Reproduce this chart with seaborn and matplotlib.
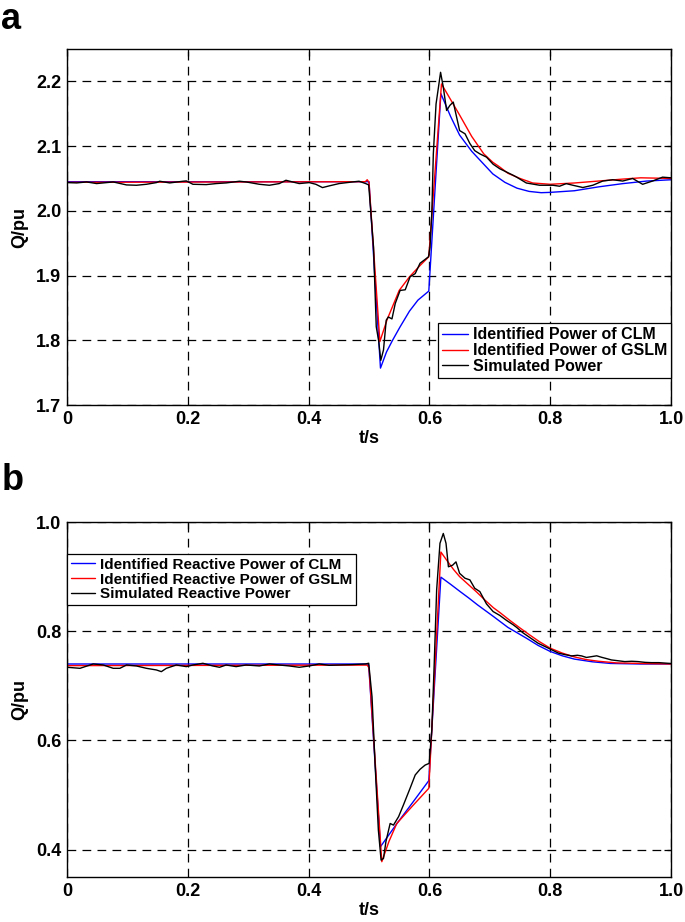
import numpy as np
import pandas as pd
import seaborn as sns
import matplotlib
matplotlib.use("Agg")
import matplotlib.pyplot as plt

# ---- panel a: Q/pu ----
t_a_clm = [0, 0.5, 0.519, 0.529, 0.539, 0.551, 0.567, 0.581, 0.599, 0.619, 0.635, 0.650,
           0.670, 0.690, 0.705, 0.725, 0.745, 0.765, 0.785, 0.80, 0.84, 0.88, 0.92, 0.96, 1.0]
q_a_clm = [2.045, 2.045, 1.757, 1.782, 1.800, 1.820, 1.845, 1.862, 1.876, 2.181, 2.146, 2.117,
           2.092, 2.072, 2.057, 2.044, 2.035, 2.030, 2.028, 2.0285, 2.031, 2.037, 2.042, 2.046, 2.048]

t_a_gslm = [0, 0.494, 0.497, 0.500, 0.518, 0.530, 0.550, 0.567, 0.585, 0.599, 0.620, 0.635,
            0.650, 0.670, 0.690, 0.705, 0.716, 0.730, 0.750, 0.771, 0.80, 0.84, 0.88, 0.92, 0.95, 1.0]
q_a_gslm = [2.044, 2.045, 2.048, 2.044, 1.798, 1.832, 1.877, 1.898, 1.916, 1.929, 2.196, 2.172,
            2.148, 2.115, 2.088, 2.075, 2.068, 2.058, 2.050, 2.043, 2.041, 2.043, 2.046, 2.049, 2.051, 2.050]

t_a_sim = [0, 0.016, 0.0325, 0.049, 0.0655, 0.0765, 0.0985, 0.115, 0.1315, 0.148, 0.1535, 0.170,
           0.192, 0.1975, 0.2085, 0.2305, 0.247, 0.2635, 0.2855, 0.2965, 0.3185, 0.335, 0.3515,
           0.3625, 0.3735, 0.3845, 0.401, 0.412, 0.423, 0.434, 0.4505, 0.4725, 0.4835, 0.4945,
           0.4995, 0.5075, 0.512, 0.516, 0.5195, 0.524, 0.5285, 0.532, 0.538, 0.5435, 0.5515, 0.560,
           0.568, 0.5765, 0.5845, 0.593, 0.5985, 0.601, 0.604, 0.6065, 0.611, 0.615, 0.6185, 0.623,
           0.6285, 0.634, 0.6395, 0.645, 0.650, 0.659, 0.667, 0.675, 0.6835, 0.6945, 0.7055, 0.7165,
           0.7275, 0.7385, 0.7445, 0.7605, 0.7825, 0.8045, 0.8155, 0.8265, 0.8375, 0.854, 0.8705,
           0.887, 0.9035, 0.92, 0.9365, 0.953, 0.9695, 0.986, 1.0]
q_a_sim = [2.0436, 2.0431, 2.0446, 2.0421, 2.0436, 2.0446, 2.0400, 2.0395, 2.0410, 2.0436, 2.0457, 2.0431,
           2.0457, 2.0462, 2.0410, 2.0405, 2.0421, 2.0431, 2.0457, 2.0446, 2.0410, 2.0395, 2.0421,
           2.0472, 2.0446, 2.0421, 2.0436, 2.0410, 2.0359, 2.0385, 2.0421, 2.0446, 2.0457, 2.0421,
           2.040, 1.944, 1.821, 1.799, 1.769, 1.785, 1.831, 1.836, 1.833, 1.857, 1.877, 1.878,
           1.898, 1.903, 1.919, 1.925, 1.929, 1.944, 1.996, 2.088, 2.165, 2.191, 2.214, 2.191,
           2.155, 2.163, 2.168, 2.145, 2.124, 2.119, 2.104, 2.093, 2.088, 2.083, 2.072, 2.065,
           2.060, 2.055, 2.052, 2.043, 2.0395, 2.0395, 2.038, 2.042, 2.0395, 2.036, 2.0395,
           2.046, 2.048, 2.046, 2.050, 2.041, 2.046, 2.052, 2.051]

# ---- panel b: Q/pu ----
t_b_clm = [0, 0.4975, 0.4995, 0.519, 0.545, 0.572, 0.599, 0.619, 0.635, 0.651, 0.665, 0.680,
           0.706, 0.730, 0.761, 0.780, 0.800, 0.820, 0.840, 0.870, 0.900, 0.950, 1.0]
q_b_clm = [0.740, 0.740, 0.738, 0.4055, 0.446, 0.486, 0.5264, 0.899, 0.886, 0.8725, 0.861, 0.848,
           0.827, 0.807, 0.787, 0.774, 0.763, 0.755, 0.749, 0.744, 0.741, 0.740, 0.740]

t_b_gslm = [0, 0.497, 0.500, 0.5212, 0.533, 0.546, 0.572, 0.599, 0.619, 0.630, 0.640, 0.650,
            0.665, 0.678, 0.692, 0.706, 0.717, 0.733, 0.750, 0.765, 0.782, 0.800, 0.820, 0.840,
            0.860, 0.880, 0.910, 0.950, 1.0]
q_b_gslm = [0.737, 0.738, 0.733, 0.378, 0.415, 0.448, 0.480, 0.5124, 0.945, 0.928, 0.913, 0.900,
            0.885, 0.872, 0.857, 0.843, 0.834, 0.820, 0.806, 0.794, 0.781, 0.769, 0.760, 0.753,
            0.748, 0.745, 0.742, 0.741, 0.740]

t_b_sim = [0, 0.0215, 0.0435, 0.060, 0.0765, 0.0875, 0.0985, 0.115, 0.1315, 0.148, 0.1562, 0.1645,
           0.181, 0.1975, 0.2085, 0.225, 0.2415, 0.2525, 0.2635, 0.28, 0.2965, 0.3185, 0.335, 0.3515,
           0.368, 0.3845, 0.401, 0.4175, 0.434, 0.4505, 0.4725, 0.4945,
           0.4995, 0.505, 0.510, 0.5155, 0.520, 0.524, 0.528, 0.535, 0.5405, 0.549, 0.557, 0.568,
           0.5765, 0.5845, 0.593, 0.5995, 0.604, 0.608, 0.612, 0.6175, 0.623, 0.6275, 0.6315, 0.6385,
           0.644, 0.650, 0.659, 0.667, 0.675, 0.6835, 0.6945, 0.7055, 0.7165, 0.7275, 0.7385, 0.7445,
           0.755, 0.7695, 0.780, 0.797, 0.8135, 0.825, 0.8355, 0.845, 0.852, 0.860, 0.8685, 0.877,
           0.885, 0.893, 0.9015, 0.912, 0.9235, 0.935, 0.9455, 0.957, 0.9675, 0.980, 0.995, 1.0]
q_b_sim = [0.734, 0.7321, 0.7401, 0.7382, 0.7321, 0.7321, 0.7382, 0.7364, 0.7321, 0.7291, 0.7260, 0.7321,
           0.7382, 0.7352, 0.7382, 0.7413, 0.7364, 0.7340, 0.7382, 0.7352, 0.7382, 0.7364, 0.7401, 0.7382,
           0.7364, 0.7340, 0.7364, 0.7401, 0.7376, 0.7382, 0.7389, 0.7401,
           0.7414, 0.680, 0.558, 0.436, 0.381, 0.384, 0.4147, 0.448, 0.445, 0.4605, 0.4819, 0.5124,
           0.5368, 0.5472, 0.555, 0.558, 0.619, 0.7414, 0.8756, 0.961, 0.979, 0.961, 0.918, 0.921,
           0.927, 0.906, 0.897, 0.894, 0.8787, 0.8726, 0.850, 0.836, 0.829, 0.820, 0.812, 0.807,
           0.797, 0.786, 0.778, 0.769, 0.760, 0.757, 0.7548, 0.756, 0.7548, 0.752, 0.7535, 0.755,
           0.7523, 0.750, 0.7474, 0.746, 0.7444, 0.745, 0.7444, 0.743, 0.7425, 0.7425, 0.7413, 0.741]

x_ticks = [0, 0.2, 0.4, 0.6, 0.8, 1.0]
x_labels = ["0", "0.2", "0.4", "0.6", "0.8", "1.0"]
ya_ticks = [1.7, 1.8, 1.9, 2.0, 2.1, 2.2]
ya_labels = ["1.7", "1.8", "1.9", "2.0", "2.1", "2.2"]
yb_ticks = [0.4, 0.6, 0.8, 1.0]
yb_labels = ["0.4", "0.6", "0.8", "1.0"]

labels_a = ["Identified Power of CLM", "Identified Power of GSLM", "Simulated Power"]
labels_b = ["Identified Reactive Power of CLM", "Identified Reactive Power of GSLM",
            "Simulated Reactive Power"]
colors = ["#0000ff", "#ff0000", "#000000"]

sns.set_style("white")
plt.rcParams["font.family"] = ["Liberation Sans", "DejaVu Sans"]
plt.rcParams["font.weight"] = "bold"
plt.rcParams["text.color"] = "k"
plt.rcParams["axes.labelcolor"] = "k"
plt.rcParams["xtick.color"] = "k"
plt.rcParams["ytick.color"] = "k"

fig = plt.figure(figsize=(6.85, 9.22), dpi=100)
ax_a = fig.add_axes([67 / 685, 1 - 405 / 922, 604 / 685, 356 / 922])
ax_b = fig.add_axes([67 / 685, 1 - 877 / 922, 604 / 685, 355 / 922])


def draw(ax, series, labels):
    for (t, q), lab, c in zip(series, labels, colors):
        df = pd.DataFrame({"t": t, "q": q})
        sns.lineplot(data=df, x="t", y="q", color=c, linewidth=1.0, label=lab,
                     estimator=None, sort=False, ax=ax)


draw(ax_a, [(t_a_clm, q_a_clm), (t_a_gslm, q_a_gslm), (t_a_sim, q_a_sim)], labels_a)
draw(ax_b, [(t_b_clm, q_b_clm), (t_b_gslm, q_b_gslm), (t_b_sim, q_b_sim)], labels_b)

for ax, yt, yl, ylim in [(ax_a, ya_ticks, ya_labels, (1.7, 2.25)),
                         (ax_b, yb_ticks, yb_labels, (0.35, 1.0))]:
    ax.set_xlim(0, 1.0)
    ax.set_ylim(*ylim)
    ax.set_xticks(x_ticks)
    ax.set_xticklabels(x_labels)
    ax.set_yticks(yt)
    ax.set_yticklabels(yl)
    ax.grid(True, color="k", linewidth=0.9, linestyle=(0, (7, 5)))
    ax.tick_params(direction="in", length=5, width=0.9, top=True, right=True,
                   labelsize=13, pad=4, colors="k")
    for sp in ax.spines.values():
        sp.set_color("k")
        sp.set_linewidth(1.0)
    ax.set_xlabel("t/s", fontsize=13, fontweight="bold", labelpad=2)
    ax.set_ylabel("Q/pu", fontsize=13, fontweight="bold", labelpad=6)

leg_kw = dict(frameon=True, fancybox=False, framealpha=1, edgecolor="k",
              borderpad=0.25, labelspacing=0.05, handlelength=1.6, handletextpad=0.3,
              borderaxespad=0)
leg_a = ax_a.legend(loc="lower right", bbox_to_anchor=(1.0, 27 / 356), fontsize=11.5, **leg_kw)
leg_b = ax_b.legend(loc="upper left", bbox_to_anchor=(0.0, 1 - 32 / 355), fontsize=11, **leg_kw)
for leg in (leg_a, leg_b):
    leg.get_frame().set_linewidth(0.9)
    for txt in leg.get_texts():
        txt.set_fontweight("bold")
        txt.set_color("k")

fig.text(0.002, 0.998, "a", fontsize=26, fontweight="bold", va="top", ha="left", color="k")
fig.text(0.002, 0.498, "b", fontsize=26, fontweight="bold", va="top", ha="left", color="k")

fig.savefig("out.png", dpi=100)
